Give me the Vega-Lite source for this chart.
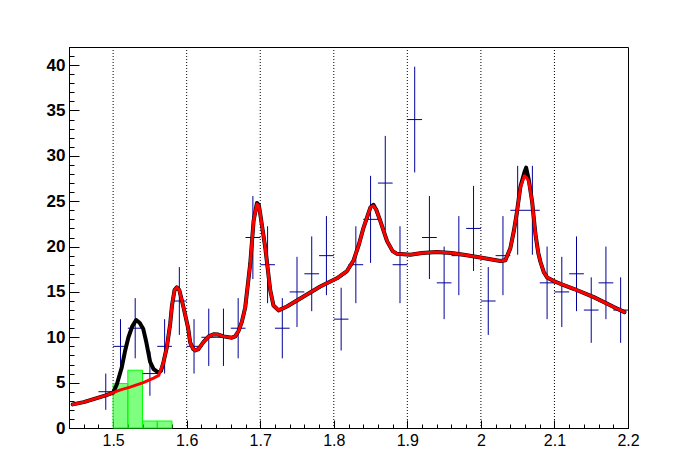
{
  "$schema": "https://vega.github.io/schema/vega-lite/v6.json",
  "width": 559,
  "height": 381,
  "autosize": "none",
  "padding": {"left": 69, "top": 47, "right": 70, "bottom": 48},
  "background": "white",
  "config": {
    "view": {"stroke": "black", "strokeWidth": 1},
    "axis": {"grid": false, "domainColor": "black", "tickColor": "black", "labelColor": "black", "labelFont": "Liberation Sans", "labelFlush": false, "labelOverlap": false}
  },
  "datasets": {
    "hist": [
      {"x0": 1.50, "x1": 1.52, "h": 4.9},
      {"x0": 1.52, "x1": 1.54, "h": 6.37},
      {"x0": 1.54, "x1": 1.56, "h": 0.77},
      {"x0": 1.56, "x1": 1.58, "h": 0.77}
    ],
    "grid": [{"g": 1.5}, {"g": 1.6}, {"g": 1.7}, {"g": 1.8}, {"g": 1.9}, {"g": 2.0}, {"g": 2.1}],
    "pts": [
      {"x": 1.49, "x0": 1.48, "x1": 1.50, "n": 4, "lo": 2, "hi": 6},
      {"x": 1.51, "x0": 1.50, "x1": 1.52, "n": 9, "lo": 6, "hi": 12},
      {"x": 1.53, "x0": 1.52, "x1": 1.54, "n": 11, "lo": 7.68, "hi": 14.32},
      {"x": 1.55, "x0": 1.54, "x1": 1.56, "n": 6, "lo": 3.55, "hi": 8.45},
      {"x": 1.57, "x0": 1.56, "x1": 1.58, "n": 9, "lo": 6, "hi": 12},
      {"x": 1.59, "x0": 1.58, "x1": 1.60, "n": 14, "lo": 10.26, "hi": 17.74},
      {"x": 1.61, "x0": 1.60, "x1": 1.62, "n": 9, "lo": 6, "hi": 12},
      {"x": 1.63, "x0": 1.62, "x1": 1.64, "n": 10, "lo": 6.84, "hi": 13.16},
      {"x": 1.65, "x0": 1.64, "x1": 1.66, "n": 10, "lo": 6.84, "hi": 13.16},
      {"x": 1.67, "x0": 1.66, "x1": 1.68, "n": 11, "lo": 7.68, "hi": 14.32},
      {"x": 1.69, "x0": 1.68, "x1": 1.70, "n": 21, "lo": 16.42, "hi": 25.58},
      {"x": 1.71, "x0": 1.70, "x1": 1.72, "n": 18, "lo": 13.76, "hi": 22.24},
      {"x": 1.73, "x0": 1.72, "x1": 1.74, "n": 11, "lo": 7.68, "hi": 14.32},
      {"x": 1.75, "x0": 1.74, "x1": 1.76, "n": 15, "lo": 11.13, "hi": 18.87},
      {"x": 1.77, "x0": 1.76, "x1": 1.78, "n": 17, "lo": 12.88, "hi": 21.12},
      {"x": 1.79, "x0": 1.78, "x1": 1.80, "n": 19, "lo": 14.64, "hi": 23.36},
      {"x": 1.81, "x0": 1.80, "x1": 1.82, "n": 12, "lo": 8.54, "hi": 15.46},
      {"x": 1.83, "x0": 1.82, "x1": 1.84, "n": 18, "lo": 13.76, "hi": 22.24},
      {"x": 1.85, "x0": 1.84, "x1": 1.86, "n": 23, "lo": 18.2, "hi": 27.8},
      {"x": 1.87, "x0": 1.86, "x1": 1.88, "n": 27, "lo": 21.8, "hi": 32.2},
      {"x": 1.89, "x0": 1.88, "x1": 1.90, "n": 18, "lo": 13.76, "hi": 22.24},
      {"x": 1.91, "x0": 1.90, "x1": 1.92, "n": 34, "lo": 28.17, "hi": 39.83},
      {"x": 1.93, "x0": 1.92, "x1": 1.94, "n": 21, "lo": 16.42, "hi": 25.58},
      {"x": 1.95, "x0": 1.94, "x1": 1.96, "n": 16, "lo": 12, "hi": 20},
      {"x": 1.97, "x0": 1.96, "x1": 1.98, "n": 19, "lo": 14.64, "hi": 23.36},
      {"x": 1.99, "x0": 1.98, "x1": 2.00, "n": 22, "lo": 17.31, "hi": 26.69},
      {"x": 2.01, "x0": 2.00, "x1": 2.02, "n": 14, "lo": 10.26, "hi": 17.74},
      {"x": 2.03, "x0": 2.02, "x1": 2.04, "n": 19, "lo": 14.64, "hi": 23.36},
      {"x": 2.05, "x0": 2.04, "x1": 2.06, "n": 24, "lo": 19.1, "hi": 28.9},
      {"x": 2.07, "x0": 2.06, "x1": 2.08, "n": 24, "lo": 19.1, "hi": 28.9},
      {"x": 2.09, "x0": 2.08, "x1": 2.10, "n": 16, "lo": 12, "hi": 20},
      {"x": 2.11, "x0": 2.10, "x1": 2.12, "n": 15, "lo": 11.13, "hi": 18.87},
      {"x": 2.13, "x0": 2.12, "x1": 2.14, "n": 17, "lo": 12.88, "hi": 21.12},
      {"x": 2.15, "x0": 2.14, "x1": 2.16, "n": 13, "lo": 9.39, "hi": 16.61},
      {"x": 2.17, "x0": 2.16, "x1": 2.18, "n": 16, "lo": 12, "hi": 20},
      {"x": 2.19, "x0": 2.18, "x1": 2.20, "n": 13, "lo": 9.39, "hi": 16.61}
    ],
    "red": [
      {"x": 1.445, "y": 2.6}, {"x": 1.46, "y": 2.85}, {"x": 1.47, "y": 3.1}, {"x": 1.48, "y": 3.35},
      {"x": 1.49, "y": 3.6}, {"x": 1.50, "y": 3.9}, {"x": 1.51, "y": 4.2}, {"x": 1.523, "y": 4.5},
      {"x": 1.541, "y": 5.0}, {"x": 1.555, "y": 5.5}, {"x": 1.562, "y": 5.8}, {"x": 1.568, "y": 7.1},
      {"x": 1.573, "y": 8.9}, {"x": 1.5776, "y": 11.5}, {"x": 1.58, "y": 13.5}, {"x": 1.5835, "y": 15.2},
      {"x": 1.5866, "y": 15.5}, {"x": 1.59, "y": 15.2}, {"x": 1.5957, "y": 13.3}, {"x": 1.602, "y": 11.0},
      {"x": 1.6048, "y": 9.4}, {"x": 1.609, "y": 8.7}, {"x": 1.6116, "y": 8.55}, {"x": 1.616, "y": 8.7},
      {"x": 1.623, "y": 9.49}, {"x": 1.63, "y": 10.1}, {"x": 1.6365, "y": 10.33}, {"x": 1.643, "y": 10.3},
      {"x": 1.65, "y": 10.1}, {"x": 1.6615, "y": 9.96}, {"x": 1.666, "y": 10.1}, {"x": 1.6705, "y": 10.7},
      {"x": 1.675, "y": 11.7}, {"x": 1.6796, "y": 13.3}, {"x": 1.6864, "y": 18.1}, {"x": 1.691, "y": 22.86},
      {"x": 1.6955, "y": 24.7}, {"x": 1.698, "y": 24.5}, {"x": 1.70, "y": 23.6}, {"x": 1.7068, "y": 19.9},
      {"x": 1.7136, "y": 15.2}, {"x": 1.718, "y": 13.5}, {"x": 1.7249, "y": 12.97}, {"x": 1.7363, "y": 13.4},
      {"x": 1.759, "y": 14.5}, {"x": 1.7816, "y": 15.6}, {"x": 1.8043, "y": 16.5}, {"x": 1.818, "y": 17.3},
      {"x": 1.827, "y": 18.5}, {"x": 1.834, "y": 20.2}, {"x": 1.8405, "y": 22.1}, {"x": 1.8497, "y": 24.3},
      {"x": 1.854, "y": 24.5}, {"x": 1.858, "y": 24.0}, {"x": 1.8633, "y": 22.8}, {"x": 1.8724, "y": 20.6},
      {"x": 1.88, "y": 19.5}, {"x": 1.886, "y": 19.2}, {"x": 1.904, "y": 19.1}, {"x": 1.92, "y": 19.3},
      {"x": 1.94, "y": 19.4}, {"x": 1.96, "y": 19.3}, {"x": 1.9766, "y": 19.1}, {"x": 1.9993, "y": 18.8},
      {"x": 2.0265, "y": 18.4}, {"x": 2.0333, "y": 18.5}, {"x": 2.04, "y": 19.8}, {"x": 2.045, "y": 21.8},
      {"x": 2.049, "y": 23.8}, {"x": 2.0537, "y": 26.5}, {"x": 2.0592, "y": 27.8}, {"x": 2.062, "y": 27.6},
      {"x": 2.065, "y": 27.2}, {"x": 2.0696, "y": 25.0}, {"x": 2.0741, "y": 21.4}, {"x": 2.078, "y": 19.3},
      {"x": 2.081, "y": 18.3}, {"x": 2.0854, "y": 17.2}, {"x": 2.09, "y": 16.6}, {"x": 2.099, "y": 16.2},
      {"x": 2.108, "y": 15.9}, {"x": 2.126, "y": 15.35}, {"x": 2.1535, "y": 14.43}, {"x": 2.1807, "y": 13.33},
      {"x": 2.1952, "y": 12.78}
    ],
    "black": [
      {"x": 1.445, "y": 2.6}, {"x": 1.46, "y": 2.85}, {"x": 1.47, "y": 3.1}, {"x": 1.48, "y": 3.35},
      {"x": 1.49, "y": 3.6}, {"x": 1.50, "y": 3.9}, {"x": 1.505, "y": 4.8}, {"x": 1.5118, "y": 6.7},
      {"x": 1.516, "y": 8.4}, {"x": 1.5208, "y": 10.0}, {"x": 1.526, "y": 11.2}, {"x": 1.5313, "y": 11.9},
      {"x": 1.536, "y": 11.6}, {"x": 1.541, "y": 10.9}, {"x": 1.545, "y": 9.5}, {"x": 1.5503, "y": 7.3},
      {"x": 1.555, "y": 6.5}, {"x": 1.5617, "y": 6.1}, {"x": 1.565, "y": 6.3}, {"x": 1.568, "y": 7.1},
      {"x": 1.573, "y": 8.9}, {"x": 1.5776, "y": 11.5}, {"x": 1.58, "y": 13.5}, {"x": 1.5835, "y": 15.2},
      {"x": 1.5866, "y": 15.5}, {"x": 1.59, "y": 15.2}, {"x": 1.5957, "y": 13.3}, {"x": 1.602, "y": 11.0},
      {"x": 1.6048, "y": 9.4}, {"x": 1.609, "y": 8.7}, {"x": 1.6116, "y": 8.55}, {"x": 1.616, "y": 8.7},
      {"x": 1.623, "y": 9.49}, {"x": 1.63, "y": 10.1}, {"x": 1.6365, "y": 10.33}, {"x": 1.643, "y": 10.3},
      {"x": 1.65, "y": 10.1}, {"x": 1.6615, "y": 9.96}, {"x": 1.666, "y": 10.1}, {"x": 1.6705, "y": 10.7},
      {"x": 1.675, "y": 11.7}, {"x": 1.6796, "y": 13.3}, {"x": 1.6864, "y": 18.1}, {"x": 1.691, "y": 22.86},
      {"x": 1.6955, "y": 24.8}, {"x": 1.698, "y": 24.6}, {"x": 1.70, "y": 23.6}, {"x": 1.7068, "y": 19.9},
      {"x": 1.7136, "y": 15.2}, {"x": 1.718, "y": 13.5}, {"x": 1.7249, "y": 12.97}, {"x": 1.7363, "y": 13.4},
      {"x": 1.759, "y": 14.5}, {"x": 1.7816, "y": 15.6}, {"x": 1.8043, "y": 16.5}, {"x": 1.818, "y": 17.3},
      {"x": 1.827, "y": 18.5}, {"x": 1.834, "y": 20.2}, {"x": 1.8405, "y": 22.1}, {"x": 1.8497, "y": 24.3},
      {"x": 1.854, "y": 24.6}, {"x": 1.858, "y": 24.0}, {"x": 1.8633, "y": 22.8}, {"x": 1.8724, "y": 20.6},
      {"x": 1.88, "y": 19.5}, {"x": 1.886, "y": 19.2}, {"x": 1.904, "y": 19.1}, {"x": 1.92, "y": 19.3},
      {"x": 1.94, "y": 19.4}, {"x": 1.96, "y": 19.3}, {"x": 1.9766, "y": 19.1}, {"x": 1.9993, "y": 18.8},
      {"x": 2.0265, "y": 18.4}, {"x": 2.0333, "y": 18.5}, {"x": 2.04, "y": 19.8}, {"x": 2.045, "y": 21.8},
      {"x": 2.049, "y": 23.8}, {"x": 2.0537, "y": 26.6}, {"x": 2.0592, "y": 28.2}, {"x": 2.0615, "y": 28.7},
      {"x": 2.065, "y": 27.4}, {"x": 2.0696, "y": 25.0}, {"x": 2.0741, "y": 21.4}, {"x": 2.078, "y": 19.3},
      {"x": 2.081, "y": 18.3}, {"x": 2.0854, "y": 17.2}, {"x": 2.09, "y": 16.6}, {"x": 2.099, "y": 16.2},
      {"x": 2.108, "y": 15.9}, {"x": 2.126, "y": 15.35}, {"x": 2.1535, "y": 14.43}, {"x": 2.1807, "y": 13.33},
      {"x": 2.1952, "y": 12.78}
    ]
  },
  "resolve": {"axis": {"x": "independent", "y": "independent"}},
  "layer": [
    {
      "data": {"name": "grid"},
      "mark": {"type": "rule", "color": "black", "strokeWidth": 1, "strokeDash": [1, 2]},
      "encoding": {
        "x": {"field": "g", "type": "quantitative", "scale": {"domain": [1.44, 2.2], "nice": false, "zero": false},
          "axis": {"orient": "top", "offset": -381, "values": [1.44, 1.46, 1.48, 1.5, 1.52, 1.54, 1.56, 1.58, 1.6, 1.62, 1.64, 1.66, 1.68, 1.7, 1.72, 1.74, 1.76, 1.78, 1.8, 1.82, 1.84, 1.86, 1.88, 1.9, 1.92, 1.94, 1.96, 1.98, 2.0, 2.02, 2.04, 2.06, 2.08, 2.1, 2.12, 2.14, 2.16, 2.18, 2.2], "tickSize": 4, "tickWidth": 1, "labelExpr": "''", "title": null}}
      }
    },
    {
      "data": {"name": "hist"},
      "mark": {"type": "rect", "fill": "#00ff00", "fillOpacity": 0.5, "stroke": "#00ff00", "strokeWidth": 1},
      "encoding": {
        "x": {"field": "x0", "type": "quantitative", "scale": {"domain": [1.44, 2.2], "nice": false, "zero": false},
          "axis": {"orient": "bottom", "values": [1.5, 1.6, 1.7, 1.8, 1.9, 2.0, 2.1, 2.2], "format": "~g", "ticks": false, "domain": false, "labelPadding": 4, "labelFontSize": 16, "labelFontWeight": "normal", "title": null}},
        "x2": {"field": "x1"},
        "y": {"field": "h", "type": "quantitative", "scale": {"domain": [0, 42], "nice": false},
          "axis": {"orient": "left", "values": [0, 5, 10, 15, 20, 25, 30, 35, 40], "ticks": false, "domain": false, "labelPadding": 4, "labelFontSize": 17, "labelFontWeight": "bold", "title": null}},
        "y2": {"datum": 0}
      }
    },
    {
      "data": {"name": "pts"},
      "mark": {"type": "rule", "color": "#000099", "strokeWidth": 1},
      "encoding": {
        "x": {"field": "x", "type": "quantitative",
          "axis": {"orient": "top", "offset": -381, "values": [1.5, 1.6, 1.7, 1.8, 1.9, 2.0, 2.1, 2.2], "tickSize": 8, "tickWidth": 1, "labelExpr": "''", "title": null}},
        "y": {"field": "lo", "type": "quantitative",
          "axis": {"orient": "right", "offset": -559, "values": [0,1,2,3,4,5,6,7,8,9,10,11,12,13,14,15,16,17,18,19,20,21,22,23,24,25,26,27,28,29,30,31,32,33,34,35,36,37,38,39,40,41,42], "tickSize": 5, "tickWidth": 1, "labelExpr": "''", "title": null}},
        "y2": {"field": "hi"}
      }
    },
    {
      "data": {"name": "pts"},
      "mark": {"type": "rule", "color": "#000099", "strokeWidth": 1},
      "encoding": {
        "x": {"field": "x0", "type": "quantitative", "axis": null},
        "x2": {"field": "x1"},
        "y": {"field": "n", "type": "quantitative",
          "axis": {"orient": "right", "offset": -559, "values": [0, 5, 10, 15, 20, 25, 30, 35, 40], "tickSize": 10, "tickWidth": 1, "labelExpr": "''", "title": null}}
      }
    },
    {
      "data": {"name": "black"},
      "mark": {"type": "line", "color": "black", "strokeWidth": 4, "strokeJoin": "round", "strokeCap": "round"},
      "encoding": {
        "x": {"field": "x", "type": "quantitative", "axis": null},
        "y": {"field": "y", "type": "quantitative", "axis": null}
      }
    },
    {
      "data": {"name": "red"},
      "mark": {"type": "line", "color": "#ff0000", "strokeWidth": 3, "strokeJoin": "round", "strokeCap": "round"},
      "encoding": {
        "x": {"field": "x", "type": "quantitative", "axis": null},
        "y": {"field": "y", "type": "quantitative", "axis": null}
      }
    }
  ]
}
